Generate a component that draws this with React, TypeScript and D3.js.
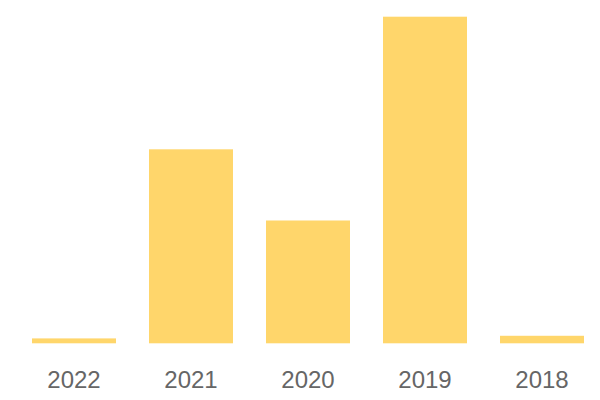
import React from "react";
import * as d3 from "d3";

const categories = ["2022", "2021", "2020", "2019", "2018"];
const values = [1.5, 59.4, 37.6, 100, 2.3];

const W = 600;
const H = 400;

export default function App() {
  const x = d3
    .scaleBand<string>()
    .domain(categories)
    .range([15.5, 600.5])
    .paddingInner(33 / 117)
    .paddingOuter(16.5 / 117);
  const y = d3.scaleLinear().domain([0, 100]).range([343.3, 16.7]);

  return (
    <svg
      width={W}
      height={H}
      style={{ position: "absolute", left: 0, top: 0, display: "block" }}
    >
      <rect width={W} height={H} fill="#ffffff" />
      {categories.map((c, i) => (
        <rect
          key={c}
          x={x(c)}
          y={y(values[i])}
          width={x.bandwidth()}
          height={y(0) - y(values[i])}
          fill="#ffd66b"
        />
      ))}
      {categories.map((c) => (
        <text
          key={"t" + c}
          x={(x(c) as number) + x.bandwidth() / 2}
          y={388}
          textAnchor="middle"
          fontFamily="'Liberation Sans', Arial, sans-serif"
          fontSize={24}
          fill="#666666"
        >
          {c}
        </text>
      ))}
    </svg>
  );
}
